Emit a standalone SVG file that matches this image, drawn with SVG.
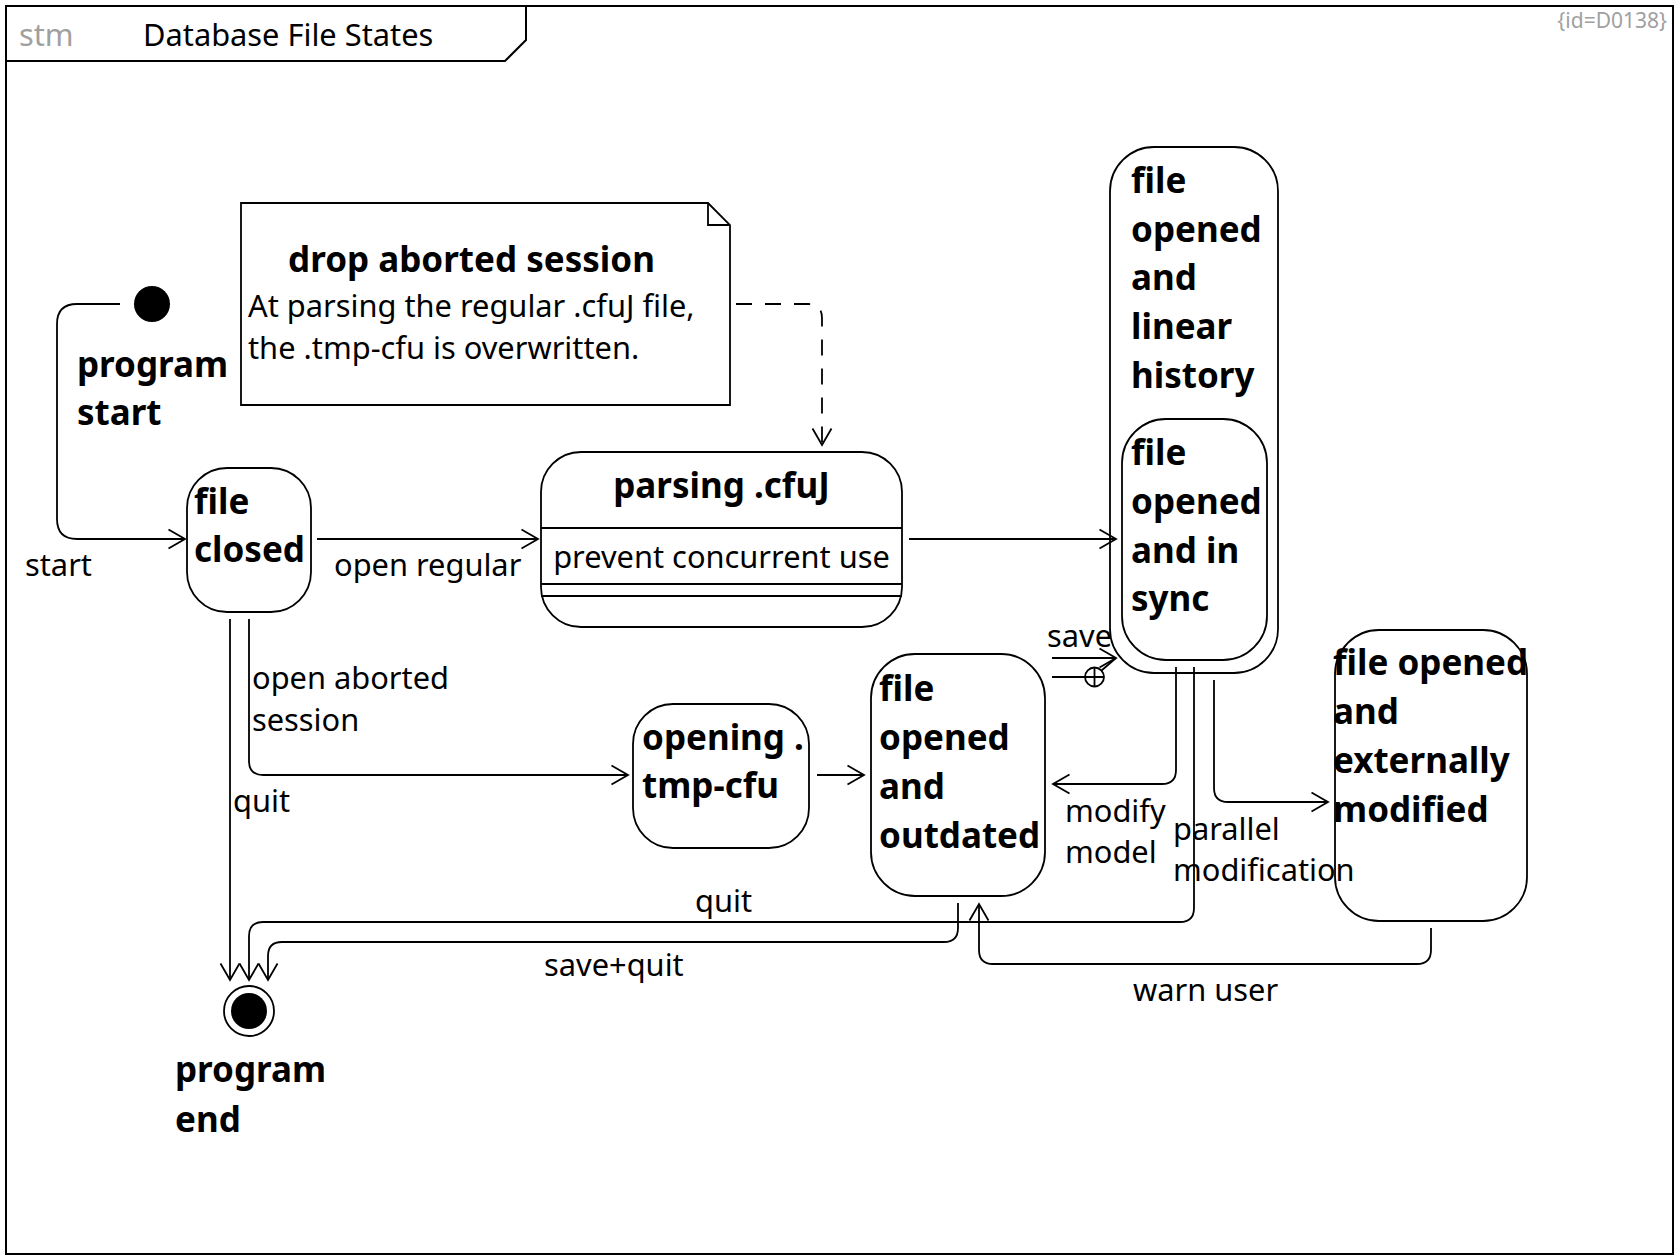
<svg xmlns="http://www.w3.org/2000/svg" width="1680" height="1260" viewBox="0 0 1680 1260">
<style>
text{font-family:"Noto Sans","Open Sans",sans-serif;fill:#000}
.n{font-size:30.8px}
.b{font-size:35px;font-weight:bold}
.g{fill:#a0a0a0}
.box{fill:#fff;stroke:#000;stroke-width:1.8}
.ln{fill:none;stroke:#000;stroke-width:1.8}
.dash{fill:none;stroke:#000;stroke-width:1.8;stroke-dasharray:16 13}
</style>
<defs>
<marker id="arr" markerUnits="userSpaceOnUse" markerWidth="22" markerHeight="24" refX="18" refY="11" orient="auto" overflow="visible">
<path d="M1.5,1.5 L18,11 L1.5,20.5" fill="none" stroke="#000" stroke-width="1.8"/>
</marker>
</defs>
<rect width="1680" height="1260" fill="#fff"/>
<g id="frame">
<rect x="6" y="6" width="1667" height="1248" fill="none" stroke="#000" stroke-width="2"/>
<path d="M6,61 H505 L526,40 V6" fill="none" stroke="#000" stroke-width="2"/>
<text x="19" y="46" class="n g">stm</text>
<text x="143" y="46" class="n">Database File States</text>
<text x="1667" y="28" font-size="21" class="g" text-anchor="end">{id=D0138}</text>
</g>
<g id="initial">
<circle cx="152" cy="304" r="18" fill="#000"/>
<text x="77" y="377" class="b">program</text>
<text x="77" y="425" class="b">start</text>
</g>
<g id="note">
<path class="box" d="M241,203 H708 L730,225 V405 H241 Z"/>
<path class="ln" d="M708,203 V225 H730"/>
<text x="471.5" y="272" class="b" text-anchor="middle">drop aborted session</text>
<text x="248" y="317" class="n">At parsing the regular .cfuJ file,</text>
<text x="248" y="359" class="n">the .tmp-cfu is overwritten.</text>
</g>
<g id="file-closed">
<rect x="187" y="468" width="124" height="144" rx="40" class="box"/>
<text x="194" y="514" class="b">file</text>
<text x="194" y="562" class="b">closed</text>
</g>
<g id="parsing">
<rect x="541" y="452" width="361" height="175" rx="40" class="box"/>
<path class="ln" d="M541,528 H902 M541,584 H902 M541,596 H902"/>
<text x="721.5" y="498" class="b" text-anchor="middle">parsing .cfuJ</text>
<text x="721.5" y="568" class="n" text-anchor="middle">prevent concurrent use</text>
</g>
<g id="linear-history">
<rect x="1110" y="147" width="168" height="526" rx="44" class="box"/>
<text x="1131" y="193" class="b">file</text>
<text x="1131" y="242" class="b">opened</text>
<text x="1131" y="290" class="b">and</text>
<text x="1131" y="339" class="b">linear</text>
<text x="1131" y="388" class="b">history</text>
</g>
<g id="in-sync">
<rect x="1122" y="419" width="145" height="241" rx="44" class="box"/>
<text x="1131" y="465" class="b">file</text>
<text x="1131" y="514" class="b">opened</text>
<text x="1131" y="563" class="b">and in</text>
<text x="1131" y="611" class="b">sync</text>
</g>
<g id="opening-tmp">
<rect x="633" y="704" width="176" height="144" rx="40" class="box"/>
<text x="642" y="750" class="b">opening .</text>
<text x="642" y="798" class="b">tmp-cfu</text>
</g>
<g id="outdated">
<rect x="871" y="654" width="174" height="242" rx="44" class="box"/>
<text x="879" y="701" class="b">file</text>
<text x="879" y="750" class="b">opened</text>
<text x="879" y="799" class="b">and</text>
<text x="879" y="848" class="b">outdated</text>
</g>
<g id="externally-modified">
<rect x="1335" y="630" width="192" height="291" rx="44" class="box"/>
<text x="1333" y="675" class="b">file opened</text>
<text x="1333" y="724" class="b">and</text>
<text x="1333" y="773" class="b">externally</text>
<text x="1333" y="822" class="b">modified</text>
</g>
<g id="final">
<circle cx="249" cy="1011" r="25" fill="#fff" stroke="#000" stroke-width="1.8"/>
<circle cx="249" cy="1011" r="18" fill="#000"/>
<text x="175" y="1082" class="b">program</text>
<text x="175" y="1132" class="b">end</text>
</g>
<g id="connectors">
<path class="ln" d="M120,304 H77 Q57,304 57,324 V519 Q57,539 77,539 H185" marker-end="url(#arr)"/>
<text x="25" y="576" class="n">start</text>
<path class="ln" d="M317,539 H538" marker-end="url(#arr)"/>
<text x="334" y="576" class="n">open regular</text>
<path class="dash" d="M736,304 H808 Q822,304 822,318 V445" marker-end="url(#arr)"/>
<path class="ln" d="M909,539 H1116" marker-end="url(#arr)"/>
<path class="ln" d="M230,619 V980" marker-end="url(#arr)"/>
<text x="233" y="812" class="n">quit</text>
<path class="ln" d="M249,619 V761 Q249,775 263,775 H628" marker-end="url(#arr)"/>
<text x="252" y="689" class="n">open aborted</text>
<text x="252" y="731" class="n">session</text>
<path class="ln" d="M817,775 H864" marker-end="url(#arr)"/>
<path class="ln" d="M958,903 V928 Q958,942 944,942 H282 Q268,942 268,956 V980" marker-end="url(#arr)"/>
<text x="544" y="976" class="n">save+quit</text>
<path class="ln" d="M1194,667 V908 Q1194,922 1180,922 H263 Q249,922 249,936 V980" marker-end="url(#arr)"/>
<text x="695" y="912" class="n">quit</text>
<path class="ln" d="M1052,658 H1116" marker-end="url(#arr)"/>
<text x="1047" y="647" class="n">save</text>
<path class="ln" d="M1052,677 H1085 M1101.5,670.5 L1116,658"/>
<circle cx="1094.5" cy="677" r="9.5" class="ln"/>
<path class="ln" d="M1085,677 H1104 M1094.5,667.5 V686.5"/>
<path class="ln" d="M1176,667 V770 Q1176,784 1162,784 H1053" marker-end="url(#arr)"/>
<text x="1065" y="822" class="n">modify</text>
<text x="1065" y="863" class="n">model</text>
<path class="ln" d="M1214,680 V788 Q1214,802 1228,802 H1328" marker-end="url(#arr)"/>
<text x="1173" y="840" class="n">parallel</text>
<text x="1173" y="881" class="n">modification</text>
<path class="ln" d="M1431,928 V950 Q1431,964 1417,964 H993 Q979,964 979,950 V904" marker-end="url(#arr)"/>
<text x="1133" y="1001" class="n">warn user</text>
</g>
</svg>
